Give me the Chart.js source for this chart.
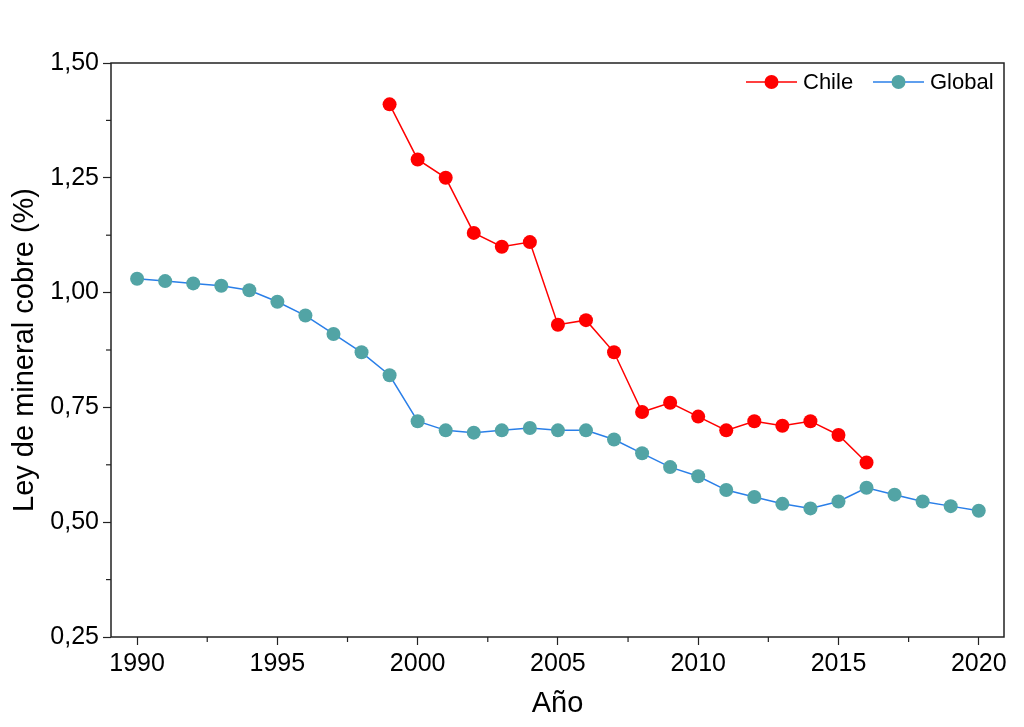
<!DOCTYPE html>
<html>
<head>
<meta charset="utf-8">
<script src="https://cdn.jsdelivr.net/npm/chart.js@4.4.1/dist/chart.umd.min.js"></script>
<style>
  html, body { margin: 0; padding: 0; background: #fff; }
  #wrap { width: 1024px; height: 727px; }
</style>
</head>
<body>
<div id="wrap"><canvas id="oreGradeChart"></canvas></div>
<script>
// Ley de mineral de cobre, Chile vs. global
const chileYears = [1999, 2000, 2001, 2002, 2003, 2004, 2005, 2006, 2007, 2008,
                    2009, 2010, 2011, 2012, 2013, 2014, 2015, 2016];
const chileGrade = [1.41, 1.29, 1.25, 1.13, 1.10, 1.11, 0.93, 0.94, 0.87, 0.74,
                    0.76, 0.73, 0.70, 0.72, 0.71, 0.72, 0.69, 0.63];

const globalYears = [1990, 1991, 1992, 1993, 1994, 1995, 1996, 1997, 1998, 1999,
                     2000, 2001, 2002, 2003, 2004, 2005, 2006, 2007, 2008, 2009,
                     2010, 2011, 2012, 2013, 2014, 2015, 2016, 2017, 2018, 2019, 2020];
const globalGrade = [1.03, 1.025, 1.02, 1.015, 1.005, 0.98, 0.95, 0.91, 0.87, 0.82,
                     0.72, 0.70, 0.695, 0.70, 0.705, 0.70, 0.70, 0.68, 0.65, 0.62,
                     0.60, 0.57, 0.555, 0.54, 0.53, 0.545, 0.575, 0.56, 0.545, 0.535, 0.525];

const xMajorTicks = [1990, 1995, 2000, 2005, 2010, 2015, 2020];
const xMinorTicks = [1992.5, 1997.5, 2002.5, 2007.5, 2012.5, 2017.5];
const yMajorTicks = [0.25, 0.50, 0.75, 1.00, 1.25, 1.50];
const yMinorTicks = [0.375, 0.625, 0.875, 1.125, 1.375];

const AXIS_COLOR = '#222222';
const FONT = 'Liberation Sans, Arial, sans-serif';

function toPoints(xs, ys) {
    return xs.map((x, i) => ({ x: x, y: ys[i] }));
}

// marco, ticks menores y leyenda dentro del área
const framePlugin = {
    id: 'frame',
    afterDraw(chart) {
        const { ctx, chartArea: a, scales } = chart;
        ctx.save();
        ctx.strokeStyle = AXIS_COLOR;
        ctx.lineWidth = 1.5;
        ctx.strokeRect(a.left, a.top, a.right - a.left, a.bottom - a.top);

        ctx.lineWidth = 1.2;
        xMinorTicks.forEach(v => {
            const px = scales.x.getPixelForValue(v);
            ctx.beginPath();
            ctx.moveTo(px, a.bottom);
            ctx.lineTo(px, a.bottom + 5);
            ctx.stroke();
        });
        yMinorTicks.forEach(v => {
            const py = scales.y.getPixelForValue(v);
            ctx.beginPath();
            ctx.moveTo(a.left, py);
            ctx.lineTo(a.left - 5, py);
            ctx.stroke();
        });

        // leyenda
        const items = [
            { label: 'Chile', line: '#ff0000', fill: '#ff0000', x: 746 },
            { label: 'Global', line: '#2a7fe8', fill: '#52a4a5', x: 873 }
        ];
        const ly = 82;
        ctx.font = '22px ' + FONT;
        ctx.textBaseline = 'middle';
        ctx.textAlign = 'left';
        items.forEach(it => {
            ctx.strokeStyle = it.line;
            ctx.lineWidth = 1.5;
            ctx.beginPath();
            ctx.moveTo(it.x, ly);
            ctx.lineTo(it.x + 51, ly);
            ctx.stroke();
            ctx.fillStyle = it.fill;
            ctx.beginPath();
            ctx.arc(it.x + 25.5, ly, 7, 0, Math.PI * 2);
            ctx.fill();
            ctx.fillStyle = '#000';
            ctx.fillText(it.label, it.x + 57, ly + 1);
        });
        ctx.restore();
    }
};

const ctx = document.getElementById('oreGradeChart').getContext('2d');
new Chart(ctx, {
    type: 'line',
    data: {
        datasets: [{
            label: 'Chile',
            data: toPoints(chileYears, chileGrade),
            borderColor: '#ff0000',
            backgroundColor: '#ff0000',
            borderWidth: 1.5,
            pointRadius: 7,
            pointHoverRadius: 7,
            pointBorderWidth: 0,
            pointBackgroundColor: '#ff0000',
            tension: 0
        }, {
            label: 'Global',
            data: toPoints(globalYears, globalGrade),
            borderColor: '#2a7fe8',
            backgroundColor: '#52a4a5',
            borderWidth: 1.5,
            pointRadius: 7,
            pointHoverRadius: 7,
            pointBorderWidth: 0,
            pointBackgroundColor: '#52a4a5',
            tension: 0
        }]
    },
    options: {
        responsive: true,
        maintainAspectRatio: false,
        animation: false,
        layout: { padding: { top: 63, right: 20, left: 0, bottom: 0 } },
        plugins: {
            legend: { display: false },
            tooltip: { enabled: false }
        },
        scales: {
            x: {
                type: 'linear',
                min: 1989.07,
                max: 2020.9,
                afterBuildTicks: scale => {
                    scale.ticks = xMajorTicks.map(v => ({ value: v }));
                },
                afterFit: scale => { scale.height = 90; },
                border: { display: false },
                grid: {
                    drawOnChartArea: false,
                    drawTicks: true,
                    tickLength: 8,
                    tickWidth: 1.2,
                    color: AXIS_COLOR
                },
                ticks: {
                    color: '#000',
                    padding: 4,
                    maxRotation: 0,
                    font: { family: FONT, size: 25 },
                    callback: v => String(v)
                },
                title: {
                    display: true,
                    text: 'Año',
                    color: '#000',
                    font: { family: FONT, size: 29 },
                    padding: { top: 0, bottom: 6 }
                }
            },
            y: {
                type: 'linear',
                min: 0.25,
                max: 1.50,
                afterBuildTicks: scale => {
                    scale.ticks = yMajorTicks.map(v => ({ value: v }));
                },
                afterFit: scale => { scale.width = 111; },
                border: { display: false },
                grid: {
                    drawOnChartArea: false,
                    drawTicks: true,
                    tickLength: 8,
                    tickWidth: 1.2,
                    color: AXIS_COLOR
                },
                ticks: {
                    color: '#000',
                    padding: 4,
                    font: { family: FONT, size: 25 },
                    callback: v => v.toFixed(2).replace('.', ',')
                },
                title: {
                    display: true,
                    text: 'Ley de mineral cobre (%)',
                    color: '#000',
                    font: { family: FONT, size: 29 },
                    padding: { top: 8, bottom: 0 }
                }
            }
        }
    },
    plugins: [framePlugin]
});
</script>
</body>
</html>
